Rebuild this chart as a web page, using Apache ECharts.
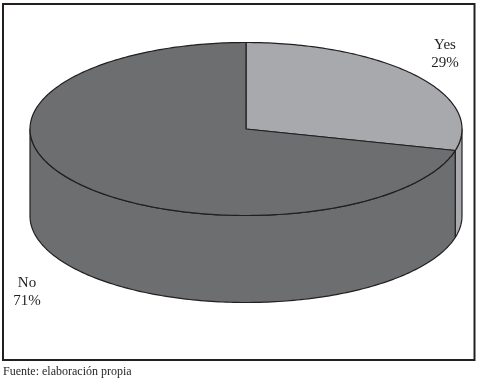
<!DOCTYPE html>
<html>
<head>
<meta charset="utf-8">
<script src="https://cdn.jsdelivr.net/npm/echarts@6/dist/echarts.min.js"></script>
<style>
html,body{margin:0;padding:0;background:#fff;}
#main{width:478px;height:380px;}
</style>
</head>
<body>
<div id="main"></div>
<script>
const categories = ['Yes', 'No'];
const values = [29, 71];
const sliceColors = ['#a7a9ac', '#6d6e70'];
const footerText = 'Fuente: elaboración propia';

const total = values.reduce((a, b) => a + b, 0);
const cum = [0];
values.forEach((v, i) => cum.push(cum[i] + v));

const G = { cx: 246, cy: 129, rx: 216, ry: 86.5, depth: 87 };
const labelPos = [[445, 54], [27, 292]];

function pt(t, dy) {
  return [G.cx + G.rx * Math.sin(t), G.cy - G.ry * Math.cos(t) + (dy || 0)];
}
function arc(a0, a1, dy) {
  const n = Math.max(2, Math.ceil(Math.abs(a1 - a0) / (Math.PI / 180)));
  const out = [];
  for (let k = 0; k <= n; k++) out.push(pt(a0 + (a1 - a0) * k / n, dy));
  return out;
}

function renderItem(params, api) {
  const i = params.dataIndex;
  const a0 = cum[i] / total * Math.PI * 2;
  const a1 = (cum[i] + api.value(0)) / total * Math.PI * 2;
  const children = [];
  const s = Math.max(a0, Math.PI / 2), e = Math.min(a1, Math.PI * 1.5);
  if (e > s) {
    const side = arc(s, e, 0).concat(arc(e, s, G.depth));
    children.push({
      type: 'polygon', z2: 1,
      shape: { points: side },
      style: { fill: sliceColors[i], stroke: '#231f20', lineWidth: 1.2, lineJoin: 'round' }
    });
  }
  const top = [[G.cx, G.cy]].concat(arc(a0, a1, 0));
  children.push({
    type: 'polygon', z2: 2,
    shape: { points: top },
    style: { fill: sliceColors[i], stroke: '#231f20', lineWidth: 1.2, lineJoin: 'round' }
  });
  children.push({
    type: 'text', z2: 3,
    x: labelPos[i][0], y: labelPos[i][1],
    style: {
      text: categories[i] + '\n' + api.value(0) + '%',
      fill: '#231f20',
      font: '15px "Liberation Serif", "DejaVu Serif", serif',
      lineHeight: 18,
      align: 'center', verticalAlign: 'middle'
    }
  });
  return { type: 'group', children: children };
}

const chart = echarts.init(document.getElementById('main'), null, { renderer: 'canvas' });
chart.setOption({
  animation: false,
  backgroundColor: '#fff',
  graphic: [
    { type: 'rect', shape: { x: 3, y: 4, width: 471.5, height: 356 },
      style: { fill: 'none', stroke: '#231f20', lineWidth: 2 }, z: 10 },
    { type: 'text', left: 3, top: 366,
      style: { text: footerText, fill: '#231f20', font: '12px "Liberation Serif", "DejaVu Serif", serif' } }
  ],
  series: [{
    type: 'custom',
    coordinateSystem: 'none',
    renderItem: renderItem,
    data: values.map((v, i) => ({ name: categories[i], value: v }))
  }]
});
</script>
</body>
</html>
